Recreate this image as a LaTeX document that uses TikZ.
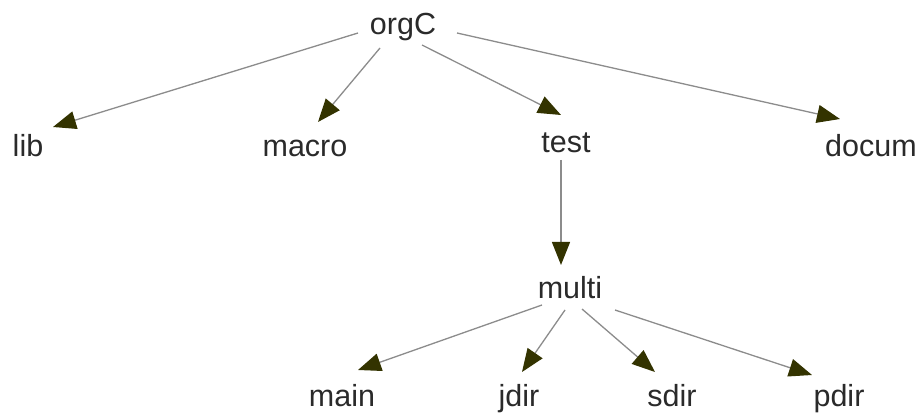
\documentclass[tikz,border=0pt]{standalone}
\usepackage{fontspec}
\setmainfont{Liberation Sans}
\usetikzlibrary{arrows.meta}
\definecolor{edgegray}{HTML}{8C8C8C}
\definecolor{tipolive}{HTML}{333300}
\definecolor{labeltext}{HTML}{2A2A2A}
\tikzset{
  dirname/.style={anchor=base, inner sep=0pt, text=labeltext,
    font=\fontsize{30.5}{36}\selectfont},
  edge/.style={draw=edgegray, line width=1.3pt,
    -{Triangle[length=23pt,width=18pt,color=tipolive]}},
}
\begin{document}
\begin{tikzpicture}[x=1pt,y=-1pt]
\useasboundingbox[fill=white] (0,0) rectangle (921,414);

% directory names
\node[dirname] (orgC)  at (403,35)  {orgC};
\node[dirname] (lib)   at (28,157)  {lib};
\node[dirname] (macro) at (305,157) {macro};
\node[dirname] (test)  at (566,153) {test};
\node[dirname] (docum) at (871,157) {docum};
\node[dirname] (multi) at (570,298) {multi};
\node[dirname] (main)  at (342,406) {main};
\node[dirname] (jdir)  at (519,406) {jdir};
\node[dirname] (sdir)  at (672,406) {sdir};
\node[dirname] (pdir)  at (839,406) {pdir};

% top level
\draw[edge] ([shift={(-45,-2)}]orgC.base) -- ([shift={(25,-30)}]lib.base);
\draw[edge] ([shift={(-23,13)}]orgC.base) -- ([shift={(13,-35)}]macro.base);
\draw[edge] ([shift={(19,10)}]orgC.base)  -- ([shift={(-5,-38)}]test.base);
\draw[edge] ([shift={(54,-2)}]orgC.base)  -- ([shift={(-31,-38)}]docum.base);

% test subtree
\draw[edge] ([shift={(-5,7)}]test.base) -- ([shift={(-9,-33)}]multi.base);

% multi subtree
\draw[edge] ([shift={(-28,7)}]multi.base) -- ([shift={(16,-36)}]main.base);
\draw[edge] ([shift={(-5,12)}]multi.base) -- ([shift={(3,-34)}]jdir.base);
\draw[edge] ([shift={(12,11)}]multi.base) -- ([shift={(-17,-34)}]sdir.base);
\draw[edge] ([shift={(45,12)}]multi.base) -- ([shift={(-27,-31)}]pdir.base);
\end{tikzpicture}
\end{document}
